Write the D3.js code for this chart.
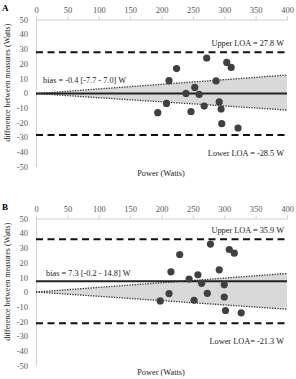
<!DOCTYPE html>
<html>
<head>
    <title>Bland-Altman plots</title>
    <script src="https://d3js.org/d3.v7.min.js"></script>
    <style>
        body { margin: 0; padding: 0; background: #fff; }
        svg { display: block; }
        text { font-family: "Liberation Serif", "Times New Roman", serif; }
        .tick-label { font-size: 8.5px; fill: #595959; }
        .note { font-size: 8.3px; fill: #222; }
    </style>
</head>
<body>
    <div id="chart"></div>

    <script>
        // Tick values shared by both panels
        const xTicks = [0, 50, 100, 150, 200, 250, 300, 350, 400];
        const yTicks = [50, 40, 30, 20, 10, 0, -10, -20, -30, -40, -50];

        // Panel A
        const powerA = [212, 224, 239, 253, 260, 272, 287, 304, 311, 194, 208, 247, 268, 292, 295, 296, 322];
        const diffA  = [8.4, 16.6, -0.3, 3.8, -1, 23.8, 8.2, 20.8, 17.4, -13.4, -7.1, -12.7, -8.9, -6.1, -10.9, -20.9, -23.8];
        const statsA = { bias: -0.4, upper: 27.8, lower: -28.5 };
        const bandA = { x: [0, 400], hi: [-0.4, 12.2], lo: [-0.4, -11.6] };
        const textA = { label: 'A', bias: 'bias = -0.4 [-7.7 - 7.0] W', upper: 'Upper LOA = 27.8 W', lower: 'Lower LOA = -28.5 W' };

        // Panel B
        const powerB = [215, 229, 244, 258, 278, 292, 308, 316, 198, 212, 252, 264, 273, 300, 300, 302, 327];
        const diffB  = [13.7, 25.5, 8.8, 11.7, 32.6, 15.1, 28.9, 26.4, -6.1, -1.1, -5.6, 5.9, -0.9, 4.9, -3.4, -12.6, -14.2];
        const statsB = { bias: 7.3, upper: 35.9, lower: -21.3 };
        const bandB = { x: [0, 400], hi: [0, 12.6], lo: [0, -11.7] };
        const textB = { label: 'B', bias: 'bias = 7.3 [-0.2 - 14.8] W', upper: 'Upper LOA = 35.9 W', lower: 'Lower LOA= -21.3 W' };

        const width = 296, height = 379;

        const svg = d3.select('#chart')
            .append('svg')
            .attr('width', width)
            .attr('height', height);

        const x = d3.scaleLinear().domain([0, 400]).range([36, 287]);

        function drawPanel(top, power, diff, stats, band, txt) {
            const g = svg.append('g').attr('transform', `translate(0,${top})`);
            const y = d3.scaleLinear().domain([-50, 50]).range([166.5, 19.5]);

            // panel letter
            g.append('text')
                .attr('x', 2).attr('y', 11)
                .style('font-size', '9px').style('font-weight', 'bold')
                .text(txt.label);

            // top x axis
            const xAxis = g.append('g')
                .attr('transform', `translate(0,${y(50)})`)
                .call(d3.axisTop(x).tickValues(xTicks).tickFormat(d => String(d)).tickSize(3).tickPadding(4));
            xAxis.select('.domain').attr('stroke', '#d0d0d0');
            xAxis.selectAll('.tick line').attr('stroke', '#d0d0d0');
            xAxis.selectAll('.tick text').attr('class', 'tick-label').attr('fill', null)
                .style('font-family', '"Liberation Serif", serif');

            // left y axis
            const yAxis = g.append('g')
                .attr('transform', `translate(${x(0)},0)`)
                .call(d3.axisLeft(y).tickValues(yTicks).tickFormat(d => String(d)).tickSize(0).tickPadding(8));
            yAxis.select('.domain').attr('stroke', '#d0d0d0');
            yAxis.selectAll('.tick text').attr('class', 'tick-label').attr('fill', null)
                .style('font-family', '"Liberation Serif", serif');

            // confidence band
            const bandPts = band.x.map((v, i) => ({ x: v, hi: band.hi[i], lo: band.lo[i] }));
            g.append('path')
                .datum(bandPts)
                .attr('fill', '#d9d9d9')
                .attr('d', d3.area().x(d => x(d.x)).y0(d => y(d.lo)).y1(d => y(d.hi)));
            ['hi', 'lo'].forEach(k => {
                g.append('path')
                    .datum(bandPts)
                    .attr('fill', 'none')
                    .attr('stroke', '#333')
                    .attr('stroke-width', 1.3)
                    .attr('stroke-dasharray', '1.3,1.3')
                    .attr('d', d3.line().x(d => x(d.x)).y(d => y(d[k])));
            });

            // bias line
            g.append('line')
                .attr('x1', x(0)).attr('x2', x(400))
                .attr('y1', y(stats.bias)).attr('y2', y(stats.bias))
                .attr('stroke', '#222').attr('stroke-width', 2);

            // limits of agreement
            [stats.upper, stats.lower].forEach(v => {
                g.append('line')
                    .attr('x1', x(0)).attr('x2', x(400))
                    .attr('y1', y(v)).attr('y2', y(v))
                    .attr('stroke', '#111').attr('stroke-width', 2)
                    .attr('stroke-dasharray', '7,4.5');
            });

            // points
            g.selectAll('circle')
                .data(power.map((p, i) => [p, diff[i]]))
                .enter()
                .append('circle')
                .attr('cx', d => x(d[0]))
                .attr('cy', d => y(d[1]))
                .attr('r', 3.6)
                .attr('fill', '#404040');

            // annotations
            g.append('text').attr('class', 'note')
                .attr('x', 284).attr('y', y(stats.upper) - 6)
                .attr('text-anchor', 'end').text(txt.upper);
            g.append('text').attr('class', 'note')
                .attr('x', 284).attr('y', y(stats.lower) + 21)
                .attr('text-anchor', 'end').text(txt.lower);
            g.append('text').attr('class', 'note')
                .attr('x', top ? 46 : 43).attr('y', y(stats.bias) - (top ? 5 : 11))
                .text(txt.bias);

            // axis titles
            g.append('text').attr('class', 'note')
                .attr('x', 161).attr('y', 176)
                .attr('text-anchor', 'middle').text('Power (Watts)');
            g.append('text')
                .attr('transform', `translate(10,${y(7)}) rotate(-90)`)
                .attr('text-anchor', 'middle')
                .style('font-size', '8px').attr('fill', '#222')
                .text('difference between measures (Watts)');
        }

        drawPanel(0, powerA, diffA, statsA, bandA, textA);
        drawPanel(199, powerB, diffB, statsB, bandB, textB);
    </script>
</body>
</html>
